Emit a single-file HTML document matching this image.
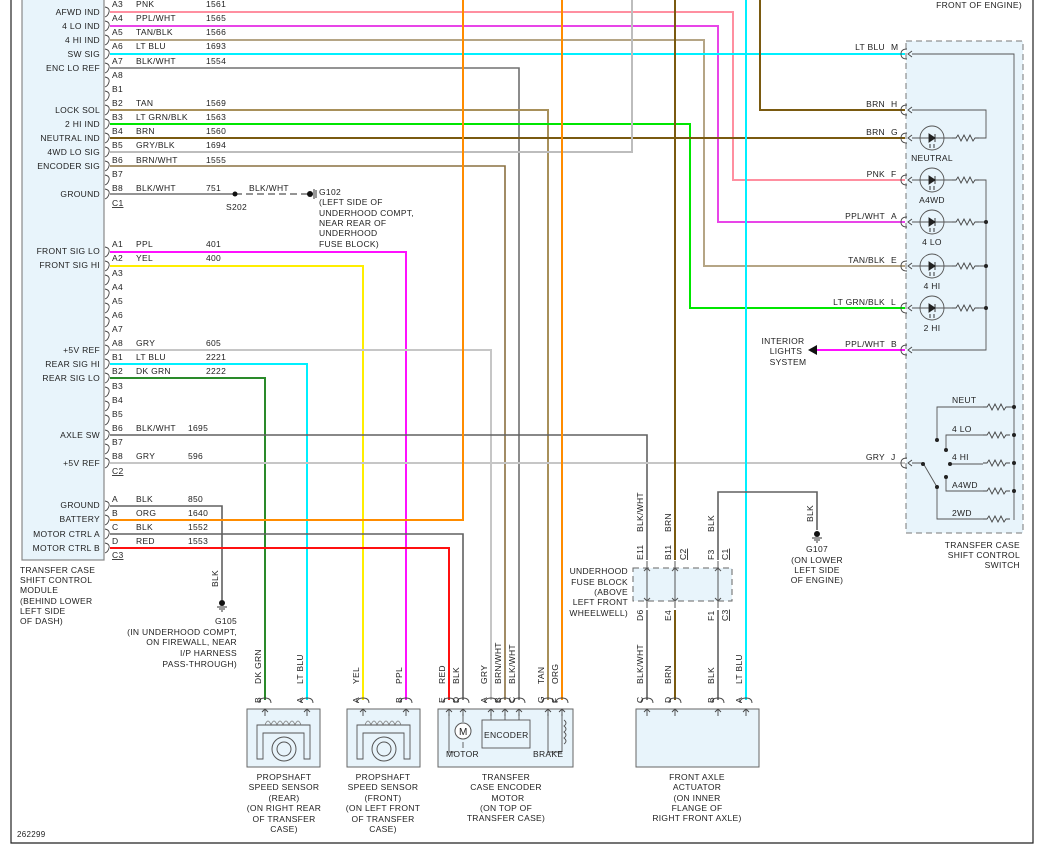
<!DOCTYPE html>
<html><head><meta charset="utf-8"><style>
html,body{margin:0;padding:0;background:#fff;width:1045px;height:845px;overflow:hidden}
svg text{font-family:"Liberation Sans",sans-serif;font-size:8.5px;fill:#222;letter-spacing:0.3px}
</style></head><body>
<svg width="1045" height="845" viewBox="0 0 1045 845" xmlns="http://www.w3.org/2000/svg">
<defs>
<g id="fc"><path d="M-2,-5 Q3,-4 2,0 Q1,4 -2,5" fill="none" stroke="#444" stroke-width="0.9"/></g>
<g id="sw"><path d="M4,-5 Q-2,-5 -2,0 Q-2,5 4,5" fill="none" stroke="#444" stroke-width="0.9"/><path d="M9,-3 L5,0 L9,3" fill="none" stroke="#444" stroke-width="0.9"/></g>
<g id="up"><path d="M-6,3 Q-6,-2 0,-2 Q6,-2 6,3" fill="none" stroke="#444" stroke-width="0.9"/><path d="M-3,12 L0,9 L3,12 M0,9 L0,16" fill="none" stroke="#444" stroke-width="0.9"/></g>
<g id="res"><path d="M0,0 L4,0 L6,-3 L9,3 L12,-3 L15,3 L18,-3 L21,3 L23,0 L27,0" fill="none" stroke="#444" stroke-width="0.9"/></g>
<g id="led"><circle cx="0" cy="0" r="12" fill="none" stroke="#555" stroke-width="0.9"/><path d="M-3,-4 L-3,4 L3,0 Z M3,-4 L3,4" fill="#222" stroke="#222" stroke-width="0.9"/><path d="M-2,6 L-2,10 M2,6 L2,10" stroke="#222" stroke-width="0.9"/></g>
<g id="gnd"><circle cx="0" cy="0" r="3" fill="#111"/><path d="M-5,4 L5,4 M-3,6 L3,6 M-1,8 L1,8" stroke="#333" stroke-width="0.9"/></g>
<g id="sens"><rect x="0" y="0" width="73" height="58" fill="#e8f4fb" stroke="#666"/>
<path d="M10,50 L10,16 L63,16 L63,50 L57,50 L57,24 L16,24 L16,50 Z" fill="none" stroke="#555" stroke-width="0.9"/>
<path d="M18,16 q3,-8 6,0 q3,-8 6,0 q3,-8 6,0 q3,-8 6,0 q3,-8 6,0 q3,-8 6,0" fill="none" stroke="#777" stroke-width="0.8"/>
<circle cx="37" cy="40" r="12" fill="none" stroke="#555"/><circle cx="37" cy="40" r="7" fill="none" stroke="#555"/></g>
</defs>
<path d="M11,0 V843 H1033 V0" fill="none" stroke="#222" stroke-width="1.2"/>
<rect x="22" y="-2" width="82" height="562" fill="#e8f4fb" stroke="#888" stroke-width="1.2"/>
<g fill="none" stroke-width="2">
<path d="M110,12 H733 V180 H905" stroke="#ff8fa0"/>
<path d="M110,26 H718 V222 H905" stroke="#e845e8"/>
<path d="M110,40 H704 V266 H905" stroke="#b5a585"/>
<path d="M110,54 H905" stroke="#00f0ff"/>
<path d="M110,68 H519 V700" stroke="#707070" stroke-width="1.6"/>
<path d="M110,110 H548 V700" stroke="#a8905a"/>
<path d="M110,124 H690 V308 H905" stroke="#00e600"/>
<path d="M110,138 H905" stroke="#7a5a10"/>
<path d="M110,152 H632 V0" stroke="#bdbdbd"/>
<path d="M110,166 H505 V700" stroke="#8a7040" stroke-width="1.6"/>
<path d="M110,194 H235" stroke="#707070" stroke-width="1.4"/>
<path d="M235,194 H310" stroke="#707070" stroke-width="1.6" stroke-dasharray="7,4"/>
<path d="M110,252 H406 V700" stroke="#ff10ff"/>
<path d="M110,266 H363 V700" stroke="#ffee00"/>
<path d="M110,350 H491 V700" stroke="#c6c6c6"/>
<path d="M110,364 H307 V700" stroke="#00f0ff"/>
<path d="M110,378 H265 V700" stroke="#2a8a2a"/>
<path d="M110,435 H647 V560" stroke="#606060" stroke-width="1.6"/>
<path d="M110,463 H905" stroke="#c6c6c6"/>
<path d="M110,506 H222 V600" stroke="#606060" stroke-width="1.6"/>
<path d="M110,520 H463 V0" stroke="#ff8c00"/>
<path d="M110,534 H463 V700" stroke="#606060" stroke-width="1.6"/>
<path d="M110,548 H449 V700" stroke="#ff1010"/>
<path d="M562,0 V700" stroke="#ff8c00"/>
<path d="M675,0 V560 M675,610 V700" stroke="#7a5a10"/>
<path d="M746,0 V700" stroke="#00f0ff"/>
<path d="M760,0 V110 H905" stroke="#7a5a10"/>
<path d="M647,610 V700" stroke="#606060" stroke-width="1.6"/>
<path d="M718,560 V492 H817 V530" stroke="#606060" stroke-width="1.6"/>
<path d="M718,610 V700" stroke="#606060" stroke-width="1.6"/>
<path d="M905,350 H815" stroke="#ff10ff"/>
</g>
<path d="M808,350 L817,345 L817,355 Z" fill="#111"/>
<circle cx="235" cy="194" r="2.5" fill="#111"/><circle cx="310" cy="194" r="3" fill="#111"/><path d="M314,189 V199 M316,190 V198" stroke="#333"/>
<use href="#gnd" x="222" y="603"/><use href="#gnd" x="817" y="534"/>
<g>
<use href="#fc" x="107" y="12"/><use href="#fc" x="107" y="26"/><use href="#fc" x="107" y="40"/><use href="#fc" x="107" y="54"/><use href="#fc" x="107" y="68"/><use href="#fc" x="107" y="82"/><use href="#fc" x="107" y="96"/><use href="#fc" x="107" y="110"/><use href="#fc" x="107" y="124"/><use href="#fc" x="107" y="138"/><use href="#fc" x="107" y="152"/><use href="#fc" x="107" y="166"/><use href="#fc" x="107" y="180"/><use href="#fc" x="107" y="194"/>
<use href="#fc" x="107" y="252"/><use href="#fc" x="107" y="266"/><use href="#fc" x="107" y="280"/><use href="#fc" x="107" y="294"/><use href="#fc" x="107" y="308"/><use href="#fc" x="107" y="322"/><use href="#fc" x="107" y="336"/><use href="#fc" x="107" y="350"/><use href="#fc" x="107" y="364"/><use href="#fc" x="107" y="378"/><use href="#fc" x="107" y="392"/><use href="#fc" x="107" y="406"/><use href="#fc" x="107" y="420"/><use href="#fc" x="107" y="435"/><use href="#fc" x="107" y="449"/><use href="#fc" x="107" y="463"/>
<use href="#fc" x="107" y="506"/><use href="#fc" x="107" y="520"/><use href="#fc" x="107" y="534"/><use href="#fc" x="107" y="548"/>
</g>
<g text-anchor="end">
<text x="100" y="15">AFWD IND</text><text x="100" y="29">4 LO IND</text><text x="100" y="43">4 HI IND</text><text x="100" y="57">SW SIG</text><text x="100" y="71">ENC LO REF</text>
<text x="100" y="113">LOCK SOL</text><text x="100" y="127">2 HI IND</text><text x="100" y="141">NEUTRAL IND</text><text x="100" y="155">4WD LO SIG</text><text x="100" y="169">ENCODER SIG</text><text x="100" y="197">GROUND</text>
<text x="100" y="254">FRONT SIG LO</text><text x="100" y="268">FRONT SIG HI</text>
<text x="100" y="353">+5V REF</text><text x="100" y="367">REAR SIG HI</text><text x="100" y="381">REAR SIG LO</text><text x="100" y="438">AXLE SW</text><text x="100" y="466">+5V REF</text>
<text x="100" y="508">GROUND</text><text x="100" y="522">BATTERY</text><text x="100" y="537">MOTOR CTRL A</text><text x="100" y="551">MOTOR CTRL B</text>
</g>
<g>
<text x="112" y="7">A3</text><text x="136" y="7">PNK</text><text x="206" y="7">1561</text>
<text x="112" y="21">A4</text><text x="136" y="21">PPL/WHT</text><text x="206" y="21">1565</text>
<text x="112" y="35">A5</text><text x="136" y="35">TAN/BLK</text><text x="206" y="35">1566</text>
<text x="112" y="49">A6</text><text x="136" y="49">LT BLU</text><text x="206" y="49">1693</text>
<text x="112" y="64">A7</text><text x="136" y="64">BLK/WHT</text><text x="206" y="64">1554</text>
<text x="112" y="78">A8</text><text x="112" y="92">B1</text>
<text x="112" y="106">B2</text><text x="136" y="106">TAN</text><text x="206" y="106">1569</text>
<text x="112" y="120">B3</text><text x="136" y="120">LT GRN/BLK</text><text x="206" y="120">1563</text>
<text x="112" y="134">B4</text><text x="136" y="134">BRN</text><text x="206" y="134">1560</text>
<text x="112" y="148">B5</text><text x="136" y="148">GRY/BLK</text><text x="206" y="148">1694</text>
<text x="112" y="163">B6</text><text x="136" y="163">BRN/WHT</text><text x="206" y="163">1555</text>
<text x="112" y="177">B7</text>
<text x="112" y="191">B8</text><text x="136" y="191">BLK/WHT</text><text x="206" y="191">751</text>
<text x="112" y="206" text-decoration="underline">C1</text>
<text x="249" y="191">BLK/WHT</text><text x="226" y="210">S202</text>
<text x="319" y="195">G102</text><text x="319" y="205">(LEFT SIDE OF</text><text x="319" y="216">UNDERHOOD COMPT,</text><text x="319" y="226">NEAR REAR OF</text><text x="319" y="236">UNDERHOOD</text><text x="319" y="247">FUSE BLOCK)</text>
<text x="112" y="247">A1</text><text x="136" y="247">PPL</text><text x="206" y="247">401</text>
<text x="112" y="261">A2</text><text x="136" y="261">YEL</text><text x="206" y="261">400</text>
<text x="112" y="276">A3</text><text x="112" y="290">A4</text><text x="112" y="304">A5</text><text x="112" y="318">A6</text><text x="112" y="332">A7</text>
<text x="112" y="346">A8</text><text x="136" y="346">GRY</text><text x="206" y="346">605</text>
<text x="112" y="360">B1</text><text x="136" y="360">LT BLU</text><text x="206" y="360">2221</text>
<text x="112" y="374">B2</text><text x="136" y="374">DK GRN</text><text x="206" y="374">2222</text>
<text x="112" y="389">B3</text><text x="112" y="403">B4</text><text x="112" y="417">B5</text>
<text x="112" y="431">B6</text><text x="136" y="431">BLK/WHT</text><text x="188" y="431">1695</text>
<text x="112" y="445">B7</text>
<text x="112" y="459">B8</text><text x="136" y="459">GRY</text><text x="188" y="459">596</text>
<text x="112" y="474" text-decoration="underline">C2</text>
<text x="112" y="502">A</text><text x="136" y="502">BLK</text><text x="188" y="502">850</text>
<text x="112" y="516">B</text><text x="136" y="516">ORG</text><text x="188" y="516">1640</text>
<text x="112" y="530">C</text><text x="136" y="530">BLK</text><text x="188" y="530">1552</text>
<text x="112" y="544">D</text><text x="136" y="544">RED</text><text x="188" y="544">1553</text>
<text x="112" y="558" text-decoration="underline">C3</text>
<text x="20" y="573">TRANSFER CASE</text><text x="20" y="583">SHIFT CONTROL</text><text x="20" y="593">MODULE</text><text x="20" y="604">(BEHIND LOWER</text><text x="20" y="614">LEFT SIDE</text><text x="20" y="624">OF DASH)</text>
</g>
<text transform="translate(218,587) rotate(-90)">BLK</text>
<g text-anchor="end">
<text x="237" y="624">G105</text><text x="237" y="635">(IN UNDERHOOD COMPT,</text><text x="237" y="645">ON FIREWALL, NEAR</text><text x="237" y="656">I/P HARNESS</text><text x="237" y="667">PASS-THROUGH)</text>
</g>
<rect x="633" y="568" width="99" height="33" fill="#e8f4fb" stroke="#666" stroke-dasharray="6,4"/>
<path d="M647,561 V608 M675,561 V608 M718,561 V608" stroke="#555"/>
<path d="M644,571 L647,568 L650,571 M672,571 L675,568 L678,571 M715,571 L718,568 L721,571 M644,598 L647,601 L650,598 M672,598 L675,601 L678,598 M715,598 L718,601 L721,598" fill="none" stroke="#555"/>
<g text-anchor="end">
<text x="628" y="574">UNDERHOOD</text><text x="628" y="585">FUSE BLOCK</text><text x="628" y="595">(ABOVE</text><text x="628" y="605">LEFT FRONT</text><text x="628" y="616">WHEELWELL)</text>
</g>
<text transform="translate(643,532) rotate(-90)">BLK/WHT</text>
<text transform="translate(671,532) rotate(-90)">BRN</text>
<text transform="translate(714,532) rotate(-90)">BLK</text>
<text transform="translate(643,560) rotate(-90)">E11</text>
<text transform="translate(671,560) rotate(-90)">B11</text>
<text transform="translate(686,560) rotate(-90)" text-decoration="underline">C2</text>
<text transform="translate(714,560) rotate(-90)">F3</text>
<text transform="translate(728,560) rotate(-90)" text-decoration="underline">C1</text>
<text transform="translate(643,621) rotate(-90)">D6</text>
<text transform="translate(671,621) rotate(-90)">E4</text>
<text transform="translate(714,621) rotate(-90)">F1</text>
<text transform="translate(728,621) rotate(-90)" text-decoration="underline">C3</text>
<text transform="translate(813,522) rotate(-90)">BLK</text>
<g text-anchor="middle">
<text x="817" y="552">G107</text><text x="817" y="563">(ON LOWER</text><text x="817" y="573">LEFT SIDE</text><text x="817" y="583">OF ENGINE)</text>
</g>
<rect x="906" y="41" width="117" height="492" fill="#e8f4fb" stroke="#777" stroke-dasharray="6,4"/>
<g fill="none" stroke="#555" stroke-width="0.9">
<path d="M912,54 H1014 V520 M912,110 H986 V138 H978 M912,138 H955 M912,180 H955 M978,180 H986 V350 H912 M912,222 H955 M978,222 H986 M912,266 H955 M978,266 H986 M912,308 H955 M978,308 H986"/>
<path d="M1010,407 H1014 M937,440 V407 H983 M946,450 V435 H983 M950,464 H983 M946,477 V491 H983 M937,487 V519 H983 M912,463 H923 L937,487"/>
</g>
<g fill="#222">
<circle cx="986" cy="222" r="2"/><circle cx="986" cy="266" r="2"/><circle cx="986" cy="308" r="2"/>
<circle cx="1014" cy="407" r="2"/><circle cx="1014" cy="435" r="2"/><circle cx="1014" cy="463" r="2"/><circle cx="1014" cy="491" r="2"/>
<circle cx="937" cy="440" r="2"/><circle cx="946" cy="450" r="2"/><circle cx="950" cy="464" r="2"/><circle cx="946" cy="477" r="2"/><circle cx="937" cy="487" r="2"/><circle cx="923" cy="464" r="2"/>
</g>
<use href="#res" x="952" y="138"/><use href="#res" x="952" y="180"/><use href="#res" x="952" y="222"/><use href="#res" x="952" y="266"/><use href="#res" x="952" y="308"/>
<use href="#res" x="983" y="407"/><use href="#res" x="983" y="435"/><use href="#res" x="983" y="463"/><use href="#res" x="983" y="491"/><use href="#res" x="983" y="519"/>
<use href="#led" x="932" y="138"/><use href="#led" x="932" y="180"/><use href="#led" x="932" y="222"/><use href="#led" x="932" y="266"/><use href="#led" x="932" y="308"/>
<use href="#sw" x="903" y="54"/><use href="#sw" x="903" y="110"/><use href="#sw" x="903" y="138"/><use href="#sw" x="903" y="180"/><use href="#sw" x="903" y="222"/><use href="#sw" x="903" y="266"/><use href="#sw" x="903" y="308"/><use href="#sw" x="903" y="350"/><use href="#sw" x="903" y="463"/>
<g text-anchor="middle">
<text x="932" y="161">NEUTRAL</text><text x="932" y="203">A4WD</text><text x="932" y="245">4 LO</text><text x="932" y="289">4 HI</text><text x="932" y="331">2 HI</text>
</g>
<text x="952" y="403">NEUT</text><text x="952" y="432">4 LO</text><text x="952" y="460">4 HI</text><text x="952" y="488">A4WD</text><text x="952" y="516">2WD</text>
<g text-anchor="end">
<text x="885" y="50">LT BLU</text><text x="885" y="107">BRN</text><text x="885" y="135">BRN</text><text x="885" y="177">PNK</text><text x="885" y="219">PPL/WHT</text><text x="885" y="263">TAN/BLK</text><text x="885" y="305">LT GRN/BLK</text><text x="885" y="347">PPL/WHT</text><text x="885" y="460">GRY</text>
<text x="1022" y="8">FRONT OF ENGINE)</text>
<text x="1020" y="548">TRANSFER CASE</text><text x="1020" y="558">SHIFT CONTROL</text><text x="1020" y="568">SWITCH</text>
</g>
<text x="891" y="50">M</text><text x="891" y="107">H</text><text x="891" y="135">G</text><text x="891" y="177">F</text><text x="891" y="219">A</text><text x="891" y="263">E</text><text x="891" y="305">L</text><text x="891" y="347">B</text><text x="891" y="460">J</text>
<g text-anchor="middle"><text x="783" y="344">INTERIOR</text><text x="786" y="354">LIGHTS</text><text x="788" y="365">SYSTEM</text></g>
<use href="#sens" x="247" y="709"/><use href="#sens" x="347" y="709"/>
<rect x="438" y="709" width="135" height="58" fill="#e8f4fb" stroke="#666"/>
<g fill="none" stroke="#555" stroke-width="0.9">
<path d="M449,714 V752 H455 M463,714 V722 M463,742 V748"/>
<rect x="482" y="720" width="48" height="28"/>
<path d="M491,714 V720 M505,714 V720 M519,714 V720 M548,714 V752 H562 M562,714 V752"/>
<path d="M564,720 q4,3 0,6 q4,3 0,6 q4,3 0,6 q4,3 0,6"/>
</g>
<circle cx="463" cy="731" r="8" fill="#fff" stroke="#555"/>
<text x="459" y="735" style="font-size:10px">M</text>
<text x="484" y="738">ENCODER</text><text x="446" y="757">MOTOR</text><text x="533" y="757">BRAKE</text>
<rect x="636" y="709" width="123" height="58" fill="#e8f4fb" stroke="#666"/>
<g>
<use href="#up" x="265" y="700"/><use href="#up" x="307" y="700"/><use href="#up" x="363" y="700"/><use href="#up" x="406" y="700"/>
<use href="#up" x="449" y="700"/><use href="#up" x="463" y="700"/><use href="#up" x="491" y="700"/><use href="#up" x="505" y="700"/><use href="#up" x="519" y="700"/><use href="#up" x="548" y="700"/><use href="#up" x="562" y="700"/>
<use href="#up" x="647" y="700"/><use href="#up" x="675" y="700"/><use href="#up" x="718" y="700"/><use href="#up" x="746" y="700"/>
</g>
<g>
<text transform="translate(261,684) rotate(-90)">DK GRN</text><text transform="translate(303,684) rotate(-90)">LT BLU</text>
<text transform="translate(359,684) rotate(-90)">YEL</text><text transform="translate(402,684) rotate(-90)">PPL</text>
<text transform="translate(445,684) rotate(-90)">RED</text><text transform="translate(459,684) rotate(-90)">BLK</text>
<text transform="translate(487,684) rotate(-90)">GRY</text><text transform="translate(501,684) rotate(-90)">BRN/WHT</text><text transform="translate(515,684) rotate(-90)">BLK/WHT</text>
<text transform="translate(544,684) rotate(-90)">TAN</text><text transform="translate(558,684) rotate(-90)">ORG</text>
<text transform="translate(643,684) rotate(-90)">BLK/WHT</text><text transform="translate(671,684) rotate(-90)">BRN</text><text transform="translate(714,684) rotate(-90)">BLK</text><text transform="translate(742,684) rotate(-90)">LT BLU</text>
<text transform="translate(261,703) rotate(-90)">B</text><text transform="translate(303,703) rotate(-90)">A</text><text transform="translate(359,703) rotate(-90)">A</text><text transform="translate(402,703) rotate(-90)">B</text>
<text transform="translate(445,703) rotate(-90)">E</text><text transform="translate(459,703) rotate(-90)">D</text><text transform="translate(487,703) rotate(-90)">A</text><text transform="translate(501,703) rotate(-90)">B</text><text transform="translate(515,703) rotate(-90)">C</text><text transform="translate(544,703) rotate(-90)">G</text><text transform="translate(558,703) rotate(-90)">F</text>
<text transform="translate(643,703) rotate(-90)">C</text><text transform="translate(671,703) rotate(-90)">D</text><text transform="translate(714,703) rotate(-90)">B</text><text transform="translate(742,703) rotate(-90)">A</text>
</g>
<g text-anchor="middle">
<text x="284" y="780">PROPSHAFT</text><text x="284" y="790">SPEED SENSOR</text><text x="284" y="801">(REAR)</text><text x="284" y="811">(ON RIGHT REAR</text><text x="284" y="822">OF TRANSFER</text><text x="284" y="832">CASE)</text>
<text x="383" y="780">PROPSHAFT</text><text x="383" y="790">SPEED SENSOR</text><text x="383" y="801">(FRONT)</text><text x="383" y="811">(ON LEFT FRONT</text><text x="383" y="822">OF TRANSFER</text><text x="383" y="832">CASE)</text>
<text x="506" y="780">TRANSFER</text><text x="506" y="790">CASE ENCODER</text><text x="508" y="801">MOTOR</text><text x="506" y="811">(ON TOP OF</text><text x="506" y="821">TRANSFER CASE)</text>
<text x="697" y="780">FRONT AXLE</text><text x="697" y="790">ACTUATOR</text><text x="697" y="801">(ON INNER</text><text x="697" y="811">FLANGE OF</text><text x="697" y="821">RIGHT FRONT AXLE)</text>
</g>
<text x="17" y="837" style="font-size:8px">262299</text>
</svg>
</body></html>
